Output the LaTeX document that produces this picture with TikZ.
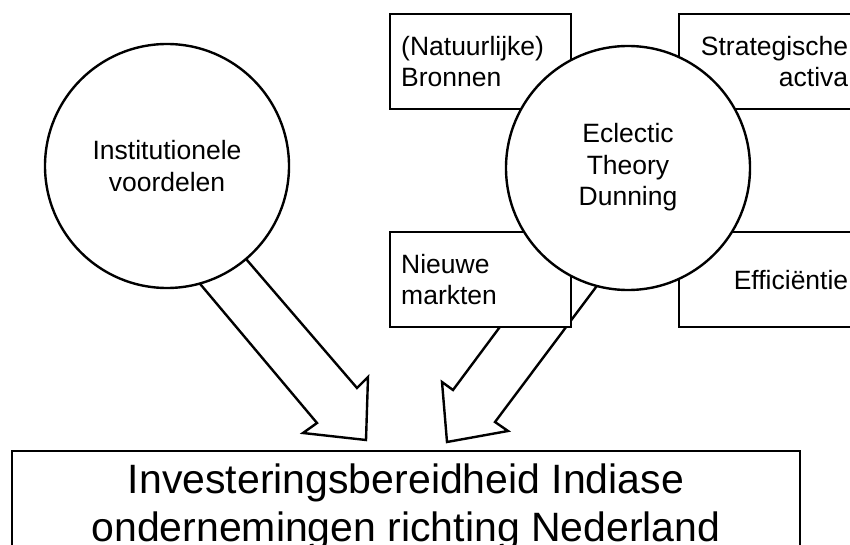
\documentclass[tikz,border=0pt]{standalone}
\usepackage{fontspec}
\setmainfont[Ligatures=NoCommon]{Liberation Sans}
\begin{document}
\begin{tikzpicture}[x=1pt,y=-1pt,
  ln/.style={line width=2.4pt, draw=black},
  small/.style={font=\fontsize{26.5}{31.5}\selectfont},
  big/.style={font=\fontsize{41}{48}\selectfont},
  circ/.style={ln, circle, fill=white, minimum size=244pt, inner sep=0pt, align=center, small},
  boxl/.style={ln, rectangle, fill=white, anchor=north west, minimum height=95pt, inner xsep=11pt, inner ysep=0pt, text width=159pt, align=left, small},
  boxr/.style={ln, rectangle, fill=white, anchor=north west, minimum height=95pt, inner xsep=11pt, inner ysep=0pt, text width=158pt, align=right, small},
  blockarrow/.style={ln, fill=white, line join=miter}
]
\useasboundingbox (0,0) rectangle (850,545);
\clip (0,0) rectangle (850,545);

% block arrows (drawn first, partly hidden)
\coordinate (la1) at (180,260);
\coordinate (la2) at (317,423);
\coordinate (la3) at (303,433);
\coordinate (latip) at (366,440);
\coordinate (la5) at (368,377);
\coordinate (la6) at (357,388);
\coordinate (la7) at (228,238);
\draw[blockarrow] (la1) -- (la2) -- (la3) -- (latip) -- (la5) -- (la6) -- (la7) -- cycle;

\coordinate (ra1) at (540,273);
\coordinate (ra2) at (453,390);
\coordinate (ra3) at (442,382);
\coordinate (ratip) at (447,442);
\coordinate (ra5) at (508,431);
\coordinate (ra6) at (495,422);
\coordinate (ra7) at (620,255);
\draw[blockarrow] (ra1) -- (ra2) -- (ra3) -- (ratip) -- (ra5) -- (ra6) -- (ra7) -- cycle;

% boxes around Dunning
\node[boxl] (bronnen) at (389,13) {(Natuurlijke)\\Bronnen};
\node[boxr] (strat) at (678,13) {Strategische\\activa};
\node[boxl] (markten) at (389,231) {Nieuwe\\markten};
\node[boxr] (effic) at (678,231) {Efficiëntie};

% circles
\node[circ] (inst) at (167,166) {Institutionele\\voordelen};
\node[circ] (dunning) at (628,168) {\raisebox{-2pt}{\begin{tabular}{@{}c@{}}Eclectic\\Theory\\Dunning\end{tabular}}};

% bottom box
\node[ln, rectangle, fill=white, anchor=north, minimum width=788pt, minimum height=112pt, inner sep=0pt, align=center, big] (invest) at (406,450)
  {Investeringsbereidheid Indiase\\ondernemingen richting Nederland};
\end{tikzpicture}
\end{document}
